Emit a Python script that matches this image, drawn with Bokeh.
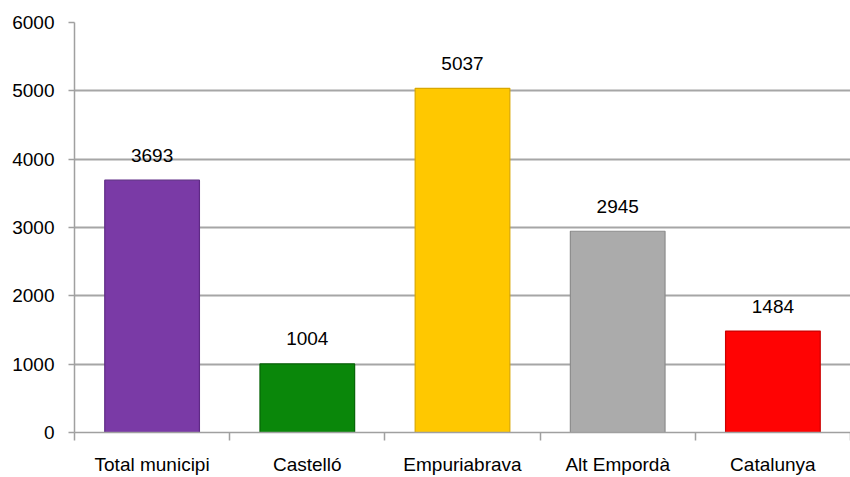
from bokeh.plotting import figure
from bokeh.models import ColumnDataSource, FixedTicker, Range1d, LinearAxis
from bokeh.core.properties import value
from bokeh.embed import file_html
from bokeh.resources import INLINE

categories = ["Total municipi", "Castelló", "Empuriabrava", "Alt Empordà", "Catalunya"]
values = [3693, 1004, 5037, 2945, 1484]
colors = ["#7A3AA6", "#0A870A", "#FFC800", "#ABABAB", "#FF0303"]
outlines = ["#5E2A85", "#066406", "#D9A800", "#8C8C8C", "#CC0000"]
y_ticks = [0, 1000, 2000, 3000, 4000, 5000, 6000]

FONT = "Liberation Sans Narrow, Arial Narrow, Liberation Sans, sans-serif"

xs = [i + 0.5 for i in range(len(categories))]
src = ColumnDataSource(dict(x=xs, top=values, color=colors, line=outlines,
                            label=[str(v) for v in values]))

p = figure(width=850, height=477, output_backend="svg", toolbar_location=None,
           x_range=Range1d(0, len(categories)), y_range=Range1d(0, 6000),
           x_axis_location=None, y_axis_location=None,
           min_border_left=74, min_border_right=0, min_border_top=22, min_border_bottom=44)
p.outline_line_color = None
p.background_fill_color = "white"
p.border_fill_color = "white"

p.vbar(x="x", top="top", width=0.61, bottom=0, fill_color="color", line_color="line",
       line_width=1.2, source=src)

p.text(x="x", y="top", text="label", source=src, text_align="center", text_baseline="middle",
       y_offset=-25, text_font=value(FONT), text_font_size="19px", text_color="black")

yaxis = LinearAxis(ticker=FixedTicker(ticks=y_ticks))
yaxis.axis_line_color = "#A0A0A0"
yaxis.axis_line_width = 1.5
yaxis.major_tick_line_color = "#A0A0A0"
yaxis.major_tick_line_width = 1.5
yaxis.major_tick_out = 6
yaxis.major_tick_in = 0
yaxis.minor_tick_line_color = None
yaxis.major_label_standoff = 14
yaxis.major_label_text_font = FONT
yaxis.major_label_text_font_size = "19px"
yaxis.major_label_text_color = "black"
p.add_layout(yaxis, "left")

xaxis = LinearAxis(ticker=FixedTicker(ticks=xs, minor_ticks=list(range(len(categories) + 1))))
xaxis.major_label_overrides = {x: c for x, c in zip(xs, categories)}
xaxis.axis_line_color = "#A0A0A0"
xaxis.axis_line_width = 1.5
xaxis.major_tick_line_color = None
xaxis.minor_tick_line_color = "#A0A0A0"
xaxis.minor_tick_line_width = 1.5
xaxis.minor_tick_out = 8
xaxis.minor_tick_in = 0
xaxis.major_label_standoff = 13
xaxis.major_label_text_font = FONT
xaxis.major_label_text_font_size = "19px"
xaxis.major_label_text_color = "black"
p.add_layout(xaxis, "below")

p.xgrid.grid_line_color = None
p.ygrid.ticker = FixedTicker(ticks=y_ticks)
p.ygrid.grid_line_color = "#A6A6A6"
p.ygrid.grid_line_width = 2

open("out.html", "w").write(file_html(p, INLINE))
